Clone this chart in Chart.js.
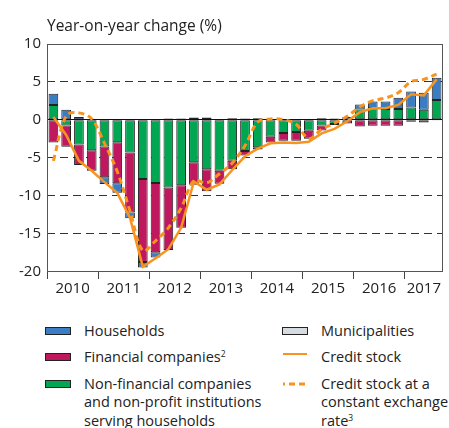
<!DOCTYPE html>
<html><head><meta charset="utf-8">
<script src="https://cdn.jsdelivr.net/npm/chart.js@4/dist/chart.umd.min.js"></script>
<style>
body{margin:0;background:#fff;font-family:'Open Sans',sans-serif;color:#222;}
#wrap{position:absolute;left:0;top:0;width:449px;height:300px;}
.lg{position:absolute;font-size:14.5px;line-height:18.5px;color:#222;white-space:nowrap;}
.box{position:absolute;width:26px;height:8px;border:1px solid #222;box-sizing:border-box;}
sup{font-size:8.5px;line-height:0;position:relative;top:1px;vertical-align:super;}
</style></head><body>
<div id="wrap"><canvas id="c"></canvas></div>

<div class="box" style="left:45px;top:327px;background:#3b7dc2"></div>
<div class="lg" style="left:84px;top:321.75px">Households</div>
<div class="box" style="left:45px;top:352.5px;background:#c0185f"></div>
<div class="lg" style="left:84px;top:347.5px">Financial companies<sup>2</sup></div>
<div class="box" style="left:45px;top:379.5px;background:#00a651"></div>
<div class="lg" style="left:84px;top:374.75px">Non-financial companies<br>and non-profit institutions<br>serving households</div>

<div class="box" style="left:282px;top:327px;background:#d6dbe1"></div>
<div class="lg" style="left:321px;top:321.75px">Municipalities</div>
<div style="position:absolute;left:283px;top:352.5px;width:24px;height:2.5px;background:#f7931e"></div>
<div class="lg" style="left:321px;top:347.5px">Credit stock</div>
<svg style="position:absolute;left:283px;top:382px" width="26" height="4"><line x1="0" y1="2" x2="26" y2="2" stroke="#f7931e" stroke-width="3" stroke-dasharray="6 4" stroke-dashoffset="4"/></svg>
<div class="lg" style="left:321px;top:374.75px">Credit stock at a<br>constant exchange<br>rate<sup>3</sup></div>

<script>
const quarters = ['2010 Q1','2010 Q2','2010 Q3','2010 Q4','2011 Q1','2011 Q2','2011 Q3','2011 Q4',
  '2012 Q1','2012 Q2','2012 Q3','2012 Q4','2013 Q1','2013 Q2','2013 Q3','2013 Q4',
  '2014 Q1','2014 Q2','2014 Q3','2014 Q4','2015 Q1','2015 Q2','2015 Q3','2015 Q4',
  '2016 Q1','2016 Q2','2016 Q3','2016 Q4','2017 Q1','2017 Q2','2017 Q3'];
const years = ['2010','2011','2012','2013','2014','2015','2016','2017'];
const yTicks = [10, 5, 0, -5, -10, -15, -20];

const nonFinancial = [1.95,-0.75,-3.25,-4.0,-3.5,-2.95,-4.3,-7.8,-8.3,-8.9,-8.6,-5.6,-6.5,-6.7,-5.4,-4.1,
  -3.6,-2.25,-1.75,-1.6,-1.45,-0.75,-0.55,null,1.35,1.5,1.4,1.4,1.6,1.3,2.6];
const financial = [-3.0,-2.8,-2.7,-2.7,-4.05,-5.4,-7.9,-10.9,-9.1,-8.2,-5.6,-2.95,-2.9,-1.7,-1.1,-0.6,
  -0.3,-0.75,-1.0,-1.15,-1.05,-0.65,-0.15,-0.5,-0.9,-0.8,-0.8,-0.8,-0.25,-0.35,-0.1];
const households = [1.45,1.3,0.35,null,-0.9,-1.25,-0.75,-0.7,-0.7,0.15,0.15,0.3,0.3,null,0.2,0.15,
  0.2,null,null,null,null,0.2,0.15,0.35,0.65,0.9,1.0,1.5,2.1,2.25,2.9];
const municipalities = [null,null,null,null,null,null,null,null,null,null,null,null,null,null,null,null,
  null,null,null,null,null,null,null,null,null,null,null,null,null,null,null];
const creditStock = [0.35,-2.0,-5.4,-6.7,-8.2,-9.6,-12.9,-19.3,-18.2,-17.0,-14.2,-8.1,-9.2,-8.5,-6.6,-4.8,
  -3.8,-3.1,-3.0,-3.05,-2.9,-1.8,-1.2,-0.2,1.0,1.5,1.5,1.95,3.35,3.2,5.3];
const creditStockFx = [-5.4,0.5,0.9,0.1,-3.1,-6.8,-12.0,-17.2,-15.9,-14.2,-11.6,-8.0,-8.3,-7.1,-5.7,-3.4,
  -0.3,0.1,0.0,-0.6,-2.5,-1.25,-0.45,0.45,1.7,2.5,2.85,3.55,5.0,5.3,6.0];

const BLUE='#3b7dc2', MAG='#c0185f', GREEN='#00a651', GREY='#d6dbe1', ORANGE='#f7931e';

const yearPos = years.map(y => {
  const idx = quarters.map((q, i) => q.startsWith(y) ? i : -1).filter(i => i >= 0);
  return idx.reduce((a, b) => a + b, 0) / idx.length;
});

Chart.defaults.font.family = "'Open Sans', sans-serif";
Chart.defaults.color = '#222';

const barStyle = {type:'bar', stack:'s', order:2, borderColor:'#222', borderWidth:1, borderSkipped:false,
  categoryPercentage:1.0, barPercentage:0.76};

const frame = {
  id:'frame',
  afterDatasetsDraw(chart){
    const {ctx, chartArea:a} = chart;
    const l = Math.round(a.left)+0.5, t = Math.round(a.top)+0.5, r = Math.round(a.right)-0.5, b = Math.round(a.bottom)-0.5;
    ctx.save();
    ctx.strokeStyle = '#555'; ctx.lineWidth = 1;
    ctx.strokeRect(l, t, r-l, b-t);
    ctx.restore();
  }
};

new Chart(document.getElementById('c'), {
  data: {
    labels: quarters,
    datasets: [
      Object.assign({label:'Non-financial companies and non-profit institutions serving households', data:nonFinancial, backgroundColor:GREEN}, barStyle),
      Object.assign({label:'Financial companies', data:financial, backgroundColor:MAG}, barStyle),
      Object.assign({label:'Households', data:households, backgroundColor:BLUE}, barStyle),
      Object.assign({label:'Municipalities', data:municipalities, backgroundColor:GREY}, barStyle),
      {type:'line', label:'Credit stock at a constant exchange rate', data:creditStockFx, borderColor:ORANGE,
        borderWidth:3, borderDash:[6,4], pointRadius:0, tension:0.35, stack:'l2', order:1, fill:false},
      {type:'line', label:'Credit stock', data:creditStock, borderColor:ORANGE, borderWidth:2.5,
        pointRadius:0, tension:0, stack:'l1', order:0, fill:false}
    ]
  },
  options: {
    responsive:true, maintainAspectRatio:false, animation:false,
    layout:{padding:{left:7, right:6, top:0, bottom:0}},
    plugins:{
      legend:{display:false}, tooltip:{enabled:false},
      title:{display:true, text:'Year-on-year change (%)', align:'start', fullSize:false,
        font:{size:15.5, weight:'normal'}, color:'#222', padding:{top:17, bottom:8}}
    },
    scales:{
      x:{type:'category', stacked:true, offset:true,
        ticks:{display:false},
        grid:{offset:true, drawOnChartArea:false, drawTicks:true, tickLength:7,
          color: c => (c.index % 4 === 0) ? '#444' : 'rgba(0,0,0,0)', lineWidth:1},
        border:{display:false},
        afterFit: s => { s.height = 7; }},
      x2:{type:'linear', position:'bottom', min:-0.5, max:quarters.length-0.5,
        afterBuildTicks: s => { s.ticks = yearPos.map(v => ({value:v})); },
        ticks:{callback:(v, i) => years[i], autoSkip:false, maxRotation:0, padding:1,
          font:{size:15}, color:'#222'},
        grid:{display:false, drawTicks:false}, border:{display:false},
        afterFit: s => { s.height = 21; }},
      y:{stacked:true, min:-20, max:10,
        afterBuildTicks: s => { s.ticks = yTicks.map(v => ({value:v})); },
        ticks:{padding:6, font:{size:15}, color:'#222'},
        grid:{drawTicks:false, lineWidth:1,
          color: c => (c.tick && (c.tick.value === 10 || c.tick.value === -20)) ? 'rgba(0,0,0,0)' :
                      (c.tick && c.tick.value === 0 ? '#111' : '#333')},
        border:{display:false, dash: c => (c.tick && c.tick.value === 0) ? [] : [8,5]},
        afterFit: s => { s.width = 40; }}
    }
  },
  plugins:[frame]
});
</script>
</body></html>
